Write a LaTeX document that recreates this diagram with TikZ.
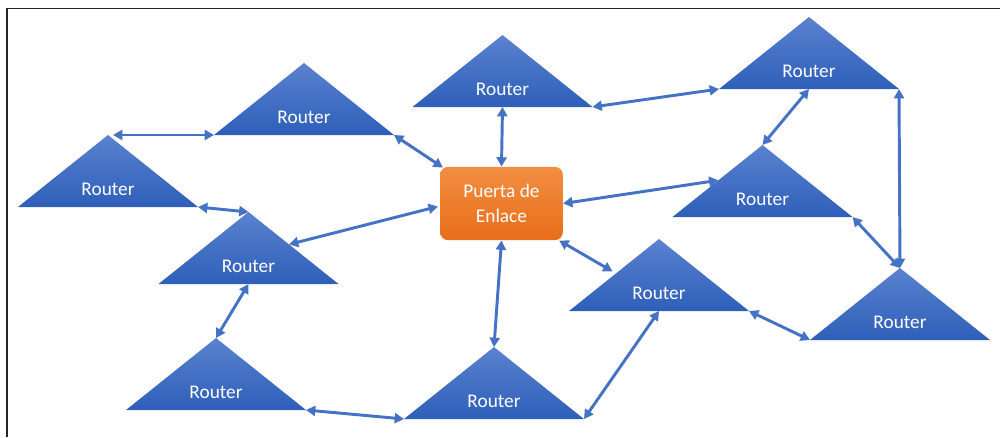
\documentclass[tikz,border=0pt]{standalone}
\usepackage{fontspec}
\setmainfont{Carlito}
\usetikzlibrary{arrows.meta,calc}
\definecolor{linkblue}{RGB}{68,114,196}
\definecolor{rtop}{RGB}{90,130,207}
\definecolor{rbot}{RGB}{46,95,185}
\definecolor{gwtop}{RGB}{242,142,66}
\definecolor{gwbot}{RGB}{232,110,26}
\tikzset{
  routerfill/.style={top color=rtop, bottom color=rbot},
  routertext/.style={text=white, inner sep=0pt, font=\fontsize{14.5}{17}\selectfont},
  gateway/.style={rounded corners=6pt, top color=gwtop, bottom color=gwbot,
    text=white, align=center, minimum width=92pt, minimum height=55pt,
    inner sep=0pt, font=\fontsize{14.5}{18.75}\selectfont},
  link/.style={linkblue, line width=2.2pt,
    {Triangle[length=7pt,width=7.5pt]}-{Triangle[length=7pt,width=7.5pt]}}
}
% router: name, x of base centre, y of base
\newcommand{\router}[3]{%
  \coordinate (#1) at (#2,#3);
  \coordinate (#1-l) at (#2-90,#3);
  \coordinate (#1-r) at (#2+90,#3);
  \coordinate (#1-t) at (#2,#3-72);
  \path[routerfill] (#1-l) -- (#1-t) -- (#1-r) -- cycle;
  \node[routertext] (#1-txt) at (#2,#3-18) {Router};
}
\begin{document}
\begin{tikzpicture}[x=0.75pt,y=-0.75pt]
  \useasboundingbox (0,0) rectangle (1000,437);
  % frame
  \draw[line width=1.3pt, black!85] (7,437) -- (7,8.5) -- (1000,8.5);

  % routers
  \router{r1}{108}{207}
  \router{r2}{304}{135}
  \router{r3}{502.5}{107}
  \router{r4}{809}{89}
  \router{r5}{762.5}{217}
  \router{r6}{248.5}{284}
  \router{r7}{216}{410}
  \router{r8}{494}{419}
  \router{r9}{659}{311}
  \router{r10}{900}{340}

  % gateway
  \node[gateway] (gw) at (501.5,203.5) {Puerta de\\Enlace};

  % links
  \draw[link] ($(r1-t)+(5,0)$) -- (r2-l);
  \draw[link] (r2-r) -- ($(gw.north west)+(3,1)$);
  \draw[link] (r1-r) -- (r6-t);
  \draw[link] ($(gw.west)+(-2,3)$) -- ($(r6-t)!0.45!(r6-r)$);
  \draw[link] (r3) -- (gw.north);
  \draw[link] (r3-r) -- (r4-l);
  \draw[link] (r4) -- (r5-t);
  \draw[link] (gw.east) -- ($(r5-t)!0.49!(r5-l)$);
  \draw[link] (r4-r) -- (r10-t);
  \draw[link] (r5-r) -- (r10-t);
  \draw[link] ($(gw.south east)+(-4,0)$) -- ($(r9-t)!0.45!(r9-l)+(-6,0)$);
  \draw[link] (r9-r) -- (r10-l);
  \draw[link] (gw.south) -- (r8-t);
  \draw[link] (r8-r) -- (r9);
  \draw[link] (r7-r) -- (r8-l);
  \draw[link] (r6) -- (r7-t);
\end{tikzpicture}
\end{document}
